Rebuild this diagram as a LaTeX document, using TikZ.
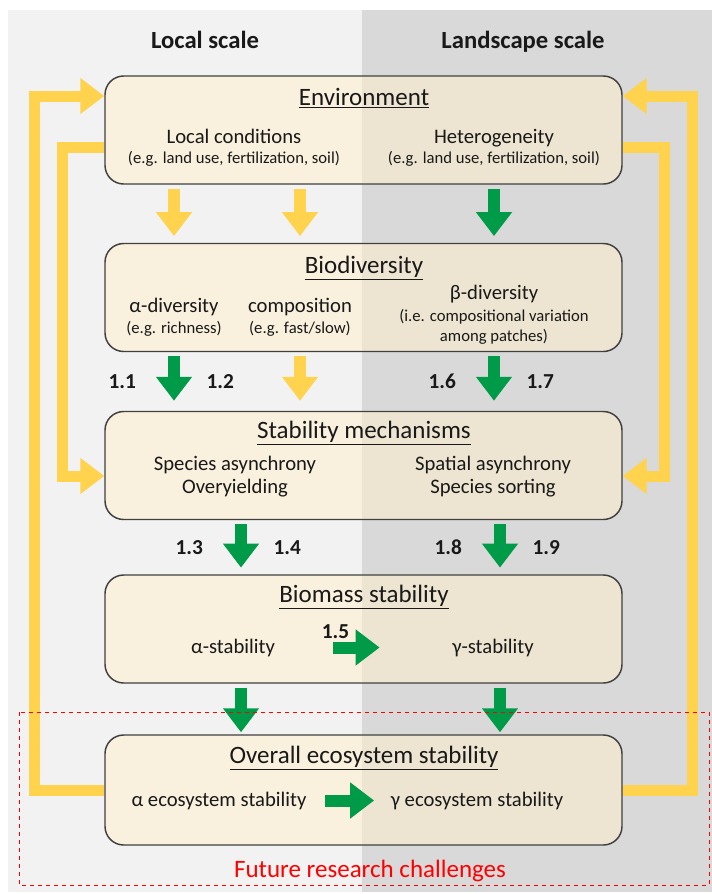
\documentclass[tikz,border=0pt]{standalone}
\usepackage{fontspec}
\setmainfont{Carlito}
\usetikzlibrary{positioning,arrows.meta,calc}

\definecolor{localgray}{HTML}{F2F2F2}
\definecolor{landgray}{HTML}{D9D9D9}
\definecolor{boxcream}{HTML}{FFF0CC}
\definecolor{fbyellow}{HTML}{FFD34E}
\definecolor{effgreen}{HTML}{009B48}
\definecolor{boxline}{HTML}{404040}

\begin{document}
\begin{tikzpicture}[x=0.75pt,y=-0.75pt,
  every node/.style={text=black!90},
  panel/.style={draw=boxline,line width=1.1pt,rounded corners=14pt,fill=boxcream,
    fill opacity=0.55,text opacity=1,minimum width=387.75pt,minimum height=81pt},
  ttl/.style={anchor=base,font=\fontsize{18.75}{22}\selectfont},
  txt/.style={anchor=base,font=\fontsize{15.5}{18}\selectfont},
  subtxt/.style={anchor=base,font=\fontsize{12.5}{15}\selectfont},
  scalehd/.style={anchor=base,font=\fontsize{18.5}{22}\selectfont\bfseries},
  num/.style={inner sep=0pt,font=\fontsize{16}{19}\selectfont\bfseries},
  blk/.style={line width=9pt,-{Triangle[width=26pt,length=18pt]},
    shorten <=3pt,shorten >=5pt},
  gblk/.style={blk,draw=effgreen},
  yblk/.style={blk,draw=fbyellow},
  fback/.style={draw=fbyellow,line width=8.25pt,-{Triangle[width=26pt,length=18pt]}},
  resbox/.style={draw=red,line width=0.75pt,dashed}]
  \useasboundingbox (0,0) rectangle (712,894);
  % two scales
  \fill[localgray] (8,10) rectangle (362,892);
  \fill[landgray] (362,10) rectangle (712,892);
  \node[scalehd] (hdL) at (205,48) {Local scale};
  \node[scalehd] (hdR) at (523,48) {Landscape scale};

  % boxes
  \node[panel] (env) at (363.5,130) {};
  \node[panel] (bio) at (363.5,297.5) {};
  \node[panel] (stab) at (363.5,465.5) {};
  \node[panel] (bms) at (363.5,629) {};
  \node[panel,minimum height=82.5pt] (ovr) at (363.5,790) {};

  \node[ttl] (envT) at (364,105) {\underline{Environment}};
  \node[txt] (locC) at (234,143) {Local conditions};
  \node[subtxt] (locE) at (234,163) {(e.g. land use, fertilization, soil)};
  \node[txt] (het) at (494,143) {Heterogeneity};
  \node[subtxt] (hetE) at (494,163) {(e.g. land use, fertilization, soil)};

  \node[ttl] (bioT) at (364,273) {\underline{Biodiversity}};
  \node[txt] (alphaD) at (174,312) {α-diversity};
  \node[subtxt] (alphaE) at (174,333) {(e.g. richness)};
  \node[txt] (comp) at (300,312) {composition};
  \node[subtxt] (compE) at (300,333) {(e.g. fast/slow)};
  \node[txt] (betaD) at (494,299) {β-diversity};
  \node[subtxt] (betaE) at (494,321) {(i.e. compositional variation};
  \node[subtxt] (betaE2) at (494,341) {among patches)};

  \node[ttl] (stabT) at (364,438) {\underline{Stability mechanisms}};
  \node[txt] (spA) at (235,470) {Species asynchrony};
  \node[txt] (ovy) at (235,493) {Overyielding};
  \node[txt] (spaA) at (493,470) {Spatial asynchrony};
  \node[txt] (sps) at (493,493) {Species sorting};

  \node[ttl] (bmsT) at (364,602) {\underline{Biomass stability}};
  \node[txt] (aStab) at (233,653) {α-stability};
  \node[txt] (gStab) at (493,653) {γ-stability};

  \node[ttl] (ovrT) at (364,763) {\underline{Overall ecosystem stability}};
  \node[txt] (aEco) at (219,806) {α ecosystem stability};
  \node[txt] (gEco) at (477,806) {γ ecosystem stability};

  % effects between levels
  \coordinate (colL) at (241,0);
  \coordinate (colR) at (500,0);
  \draw[yblk] (env.south -| alphaD) -- (bio.north -| alphaD);
  \draw[yblk] (env.south -| comp) -- (bio.north -| comp);
  \draw[gblk] (env.south -| betaD) -- (bio.north -| betaD);
  \draw[gblk,shorten >=7.5pt] (bio.south -| alphaD)
    -- node[num,left=24pt]{1.1} node[num,right=20pt]{1.2} (stab.north -| alphaD);
  \draw[yblk,shorten >=7.5pt] (bio.south -| comp) -- (stab.north -| comp);
  \draw[gblk,shorten >=7.5pt] (bio.south -| betaD)
    -- node[num,left=24pt]{1.6} node[num,right=20pt]{1.7} (stab.north -| betaD);
  \draw[gblk] (stab.south -| colL)
    -- node[num,left=24pt]{1.3} node[num,right=20pt]{1.4} (bms.north -| colL);
  \draw[gblk] (stab.south -| colR)
    -- node[num,left=24pt]{1.8} node[num,right=20pt]{1.9} (bms.north -| colR);
  \draw[gblk,shorten >=1.5pt] (bms.south -| colL) -- (ovr.north -| colL);
  \draw[gblk,shorten >=1.5pt] (bms.south -| colR) -- (ovr.north -| colR);
  \draw[gblk,shorten <=40pt,shorten >=51pt] (aStab) -- (gStab);
  \node[num,anchor=base] (n15) at (335.5,638) {1.5};
  \draw[gblk,shorten <=10.5pt,shorten >=9pt] (aEco) -- (gEco);

  % feedbacks
  \coordinate (fbL1) at (34,96);
  \coordinate (fbR1) at (692,96);
  \coordinate (fbL2) at (62,147);
  \coordinate (fbL3) at (62,476);
  \coordinate (fbR2) at (664,147);
  \coordinate (fbR3) at (664,476);
  \draw[fback] (ovr.west) -| (fbL1) -- (fbL1 -| env.west);
  \draw[fback] (ovr.east) -| (fbR1) -- (fbR1 -| env.east);
  \draw[fback] (fbL2 -| env.west) -- (fbL2) -- (fbL3) -- (fbL3 -| stab.west);
  \draw[fback] (fbR2 -| env.east) -- (fbR2) -- (fbR3) -- (fbR3 -| stab.east);

  % future work
  \draw[resbox] (19,712) rectangle (709,885);
  \node[ttl,text=red] (frc) at (370,877) {Future research challenges};
\end{tikzpicture}
\end{document}
